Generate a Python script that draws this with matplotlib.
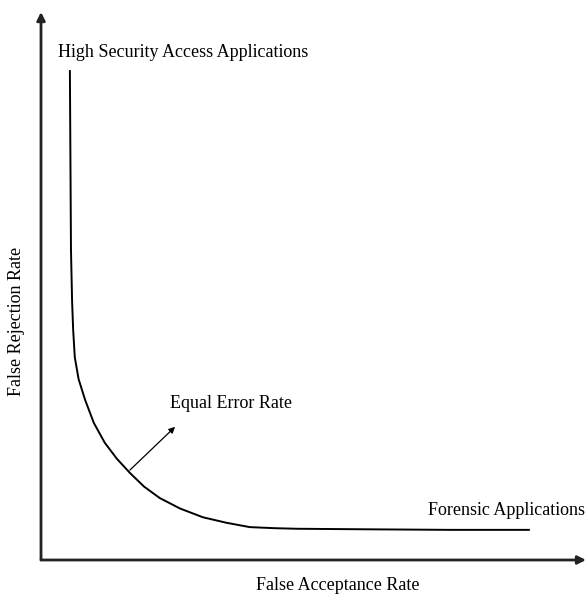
import matplotlib
matplotlib.use("Agg")
import matplotlib.pyplot as plt

# curve (axis units 0..1)
far = [0.053, 0.054, 0.055, 0.057, 0.059, 0.062, 0.069, 0.081, 0.097, 0.117, 0.139, 0.163,
       0.189, 0.218, 0.255, 0.297, 0.340, 0.383, 0.430, 0.470, 0.600, 0.750, 0.897]
frr = [0.894, 0.730, 0.566, 0.474, 0.420, 0.370, 0.330, 0.292, 0.250, 0.214, 0.185, 0.159,
       0.134, 0.113, 0.094, 0.078, 0.068, 0.060, 0.058, 0.057, 0.056, 0.055, 0.055]

eer_from = (0.163, 0.164)
eer_to = (0.246, 0.243)

labels = {
    "high": "High Security Access Applications",
    "eer": "Equal Error Rate",
    "forensic": "Forensic Applications",
    "xlabel": "False Acceptance Rate",
    "ylabel": "False Rejection Rate",
}

plt.rcParams['font.family'] = ['Liberation Serif', 'DejaVu Serif']

fig = plt.figure(figsize=(5.86, 5.95), dpi=100)
ax = fig.add_axes([41 / 586, 35 / 595, 545 / 586, 548 / 595])
ax.set_xlim(0, 1)
ax.set_ylim(0, 1)
ax.axis("off")

# axes with arrow heads
ax.annotate("", xy=(0, 1), xytext=(0, 0), xycoords="axes fraction",
            arrowprops=dict(arrowstyle="-|>", color="#222222", lw=2, mutation_scale=12, shrinkA=0, shrinkB=0))
ax.annotate("", xy=(1, 0), xytext=(0, 0), xycoords="axes fraction",
            arrowprops=dict(arrowstyle="-|>", color="#222222", lw=2, mutation_scale=12, shrinkA=0, shrinkB=0))

ax.plot(far, frr, color="black", lw=1.4, solid_capstyle="butt")

ax.annotate("", xy=eer_to, xytext=eer_from,
            arrowprops=dict(arrowstyle="-|>", color="black", lw=0.9, mutation_scale=9, shrinkA=0, shrinkB=0))

fs = 13
ax.text(0.031, 0.927, labels["high"], fontsize=fs, va="center", ha="left")
ax.text(0.237, 0.286, labels["eer"], fontsize=fs, va="center", ha="left")
ax.text(0.710, 0.091, labels["forensic"], fontsize=fs, va="center", ha="left")
fig.text(338 / 586, 1 - 586 / 595, labels["xlabel"], fontsize=fs, ha="center", va="center")
fig.text(17 / 586, 1 - 321 / 595, labels["ylabel"], fontsize=fs, ha="center", va="center", rotation=90)

fig.savefig("out.png", dpi=100)
